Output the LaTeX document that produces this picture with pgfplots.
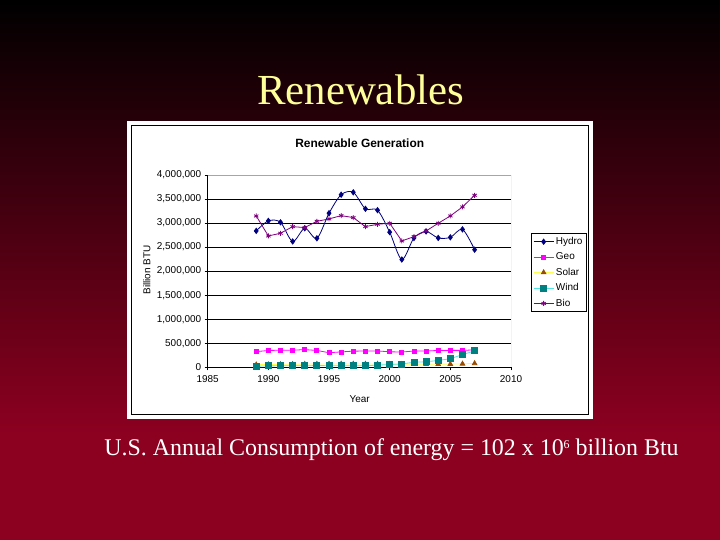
\documentclass[border=0pt]{standalone}
\usepackage{pgfplots}
\pgfplotsset{compat=1.18}
\usepackage{fontspec}
\setmainfont{Liberation Serif}
\newfontfamily\arial{Liberation Sans}
\definecolor{bgred}{RGB}{140,0,32}
\definecolor{titley}{RGB}{255,255,153}
\definecolor{hydro}{RGB}{0,0,128}
\definecolor{geo}{RGB}{255,0,255}
\definecolor{solarl}{RGB}{255,255,80}
\definecolor{solarm}{RGB}{153,76,0}
\definecolor{windl}{RGB}{80,230,230}
\definecolor{windm}{RGB}{0,128,128}
\definecolor{bio}{RGB}{128,0,128}
\begin{document}
\begin{tikzpicture}[x=1bp,y=1bp]
\fill[bgred] (0,0) rectangle (720,540);
\shade[top color=black, bottom color=bgred] (0,107) rectangle (720,540);
\fill[white] (127,121) rectangle (593,419);
\draw[black, line width=1bp] (131.5,125.5) rectangle (588.5,414);
\node[anchor=base, text=titley, font=\fontsize{43}{47}\selectfont, inner sep=0] at (360.5,435) {Renewables};
\node[anchor=base, text=white, font=\fontsize{24}{28}\selectfont, inner sep=0] at (391.5,84) {U.S. Annual Consumption of energy = 102 x 10\raisebox{7.5bp}{\fontsize{12}{13}\selectfont 6} billion Btu};
\node[anchor=base, font=\arial\bfseries\fontsize{12}{14}\selectfont, inner sep=0] at (359.7,392.7) {Renewable Generation};
\node[rotate=90, font=\arial\fontsize{10}{11}\selectfont, inner sep=0] at (146.7,270) {Billion BTU};
\node[font=\arial\fontsize{10}{11}\selectfont, inner sep=0] at (359.7,141) {Year};
\begin{axis}[
  at={(207.7bp,172.7bp)}, anchor=south west,
  scale only axis, width=303.3bp, height=192.3bp,
  xmin=1985, xmax=2010, ymin=0, ymax=4000000,
  xtick={1985,1990,1995,2000,2005,2010},
  ytick={0,500000,1000000,1500000,2000000,2500000,3000000,3500000,4000000},
  scaled y ticks=false,
  axis x line*=bottom, axis y line*=left,
  axis line style={-, black, line width=0.8bp},
  tick align=outside, major tick length=3bp,
  tick style={black, line width=0.8bp},
  ymajorgrids, major grid style={black, line width=0.9bp},
  /pgf/number format/assume math mode=true,
  ticklabel style={font=\arial\fontsize{10}{11}\selectfont},
  yticklabel style={/pgf/number format/.cd, fixed, 1000 sep={,}},
  xticklabel style={/pgf/number format/.cd, 1000 sep={}, /tikz/yshift=-2bp},
  legend style={at={(1.066,0.698)}, anchor=north west, draw=black, line width=0.6bp,
    font=\arial\fontsize{10}{11}\selectfont, row sep=2.8bp, inner sep=2bp},
  legend cell align=left,
  legend image code/.code={\draw[mark repeat=2,mark phase=2,#1] plot coordinates {(0cm,0cm)(0.35cm,0cm)(0.7cm,0cm)};},
  every axis plot/.append style={line width=0.8bp},
]
\draw[gray!70, line width=0.8bp] (rel axis cs:0,1) -- (rel axis cs:1,1) -- (rel axis cs:1,0);
\addplot[hydro, smooth, mark=diamond*, mark size=2.6bp, mark options={solid, fill=hydro}] coordinates {
(1989,2837000) (1990,3046000) (1991,3016000) (1992,2617000) (1993,2892000)
(1994,2683000) (1995,3205000) (1996,3590000) (1997,3640000) (1998,3297000)
(1999,3268000) (2000,2811000) (2001,2242000) (2002,2689000) (2003,2825000)
(2004,2690000) (2005,2703000) (2006,2869000) (2007,2446000)};
\addlegendentry{Hydro}
\addplot[geo, mark=square*, mark size=2bp, mark options={solid, fill=geo}] coordinates {
(1989,325000) (1990,350000) (1991,355000) (1992,355000) (1993,368000)
(1994,350000) (1995,303000) (1996,320000) (1997,336000) (1998,338000)
(1999,340000) (2000,322000) (2001,318000) (2002,338000) (2003,340000)
(2004,350000) (2005,352000) (2006,352000) (2007,362000)};
\addlegendentry{Geo}
\addplot[solarl, mark=triangle*, mark size=2.6bp, mark options={solid, fill=solarm, draw=solarm}] coordinates {
(1989,55000) (1990,59000) (1991,62000) (1992,64000) (1993,66000)
(1994,69000) (1995,70000) (1996,71000) (1997,70000) (1998,70000)
(1999,69000) (2000,66000) (2001,65000) (2002,64000) (2003,64000)
(2004,65000) (2005,66000) (2006,72000) (2007,81000)};
\addlegendentry{Solar}
\addplot[windl, mark=square*, mark size=3bp, mark options={solid, fill=windm, draw=windm}] coordinates {
(1989,22000) (1990,29000) (1991,31000) (1992,30000) (1993,31000)
(1994,36000) (1995,33000) (1996,33000) (1997,34000) (1998,31000)
(1999,46000) (2000,57000) (2001,70000) (2002,105000) (2003,115000)
(2004,142000) (2005,178000) (2006,264000) (2007,341000)};
\addlegendentry{Wind}
\addplot[bio, mark=asterisk, mark size=2.5bp, mark options={solid}] coordinates {
(1989,3148000) (1990,2732000) (1991,2788000) (1992,2926000) (1993,2906000)
(1994,3037000) (1995,3086000) (1996,3155000) (1997,3114000) (1998,2926000)
(1999,2975000) (2000,2996000) (2001,2628000) (2002,2718000) (2003,2836000)
(2004,2996000) (2005,3148000) (2006,3336000) (2007,3578000)};
\addlegendentry{Bio}
\end{axis}
\end{tikzpicture}
\end{document}
